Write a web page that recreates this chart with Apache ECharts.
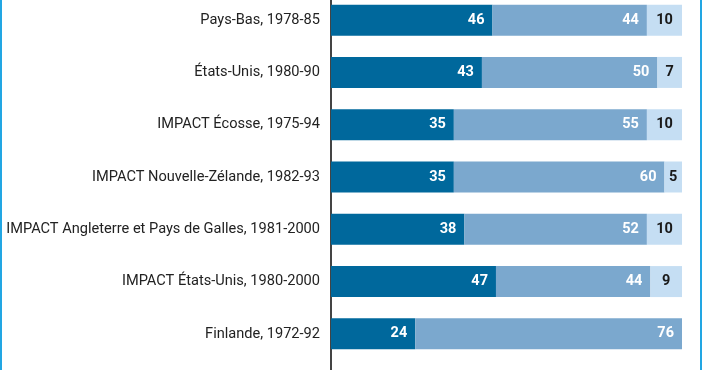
<!DOCTYPE html>
<html><head><meta charset="utf-8">
<script src="https://cdn.jsdelivr.net/npm/echarts@6/dist/echarts.min.js"></script>
<style>html,body{margin:0;padding:0;background:#fff;overflow:hidden}#wrap{width:702px;height:370px;overflow:hidden;position:relative}#c{width:702px;height:376px;position:absolute;top:-6px;left:0}</style>
</head><body><div id="wrap"><div id="c"></div></div>
<script>
const categories = [
  "Pays-Bas, 1978-85",
  "États-Unis, 1980-90",
  "IMPACT Écosse, 1975-94",
  "IMPACT Nouvelle-Zélande, 1982-93",
  "IMPACT Angleterre et Pays de Galles, 1981-2000",
  "IMPACT États-Unis, 1980-2000",
  "Finlande, 1972-92"
];
const seriesA = [46, 43, 35, 35, 38, 47, 24];
const seriesB = [44, 50, 55, 60, 52, 44, 76];
const seriesC = [10, 7, 10, 5, 10, 9, 0];

const chart = echarts.init(document.getElementById('c'), null, {renderer: 'canvas'});
const font = 'Roboto, "Noto Sans", sans-serif';
function lbl(color, pos) {
  return {
    show: true, position: pos, color: color, fontWeight: 'bold', fontSize: 14.5,
    fontFamily: font, distance: 8,
    formatter: p => p.value ? p.value : ''
  };
}
chart.setOption({
  animation: false,
  grid: {left: 331, right: 20, top: 0, bottom: 10, containLabel: false},
  xAxis: {type: 'value', min: 0, max: 100, show: false},
  yAxis: {
    type: 'category', data: categories, inverse: true,
    axisLine: {show: true, lineStyle: {color: '#444', width: 2}},
    axisTick: {show: false},
    axisLabel: {color: '#222', fontSize: 14.6, fontFamily: font, margin: 11}
  },
  series: [
    {type: 'bar', stack: 's', data: seriesA, barWidth: 31, itemStyle: {color: '#00689c'}, label: lbl('#fff', 'insideRight')},
    {type: 'bar', stack: 's', data: seriesB, barWidth: 31, itemStyle: {color: '#7ba8ce'}, label: lbl('#fff', 'insideRight')},
    {type: 'bar', stack: 's', data: seriesC, barWidth: 31, itemStyle: {color: '#c5def3'}, label: lbl('#1a1a1a', 'inside')}
  ],
  graphic: [
    {type: 'rect', shape: {x: 0, y: 0, width: 2, height: 376}, style: {fill: '#22a6e3'}, silent: true},
    {type: 'rect', shape: {x: 700, y: 0, width: 2, height: 376}, style: {fill: '#22a6e3'}, silent: true},
    {type: 'line', shape: {x1: 331, y1: 360, x2: 331, y2: 376}, style: {stroke: '#444', lineWidth: 2}, silent: true}
  ]
});
</script></body></html>
